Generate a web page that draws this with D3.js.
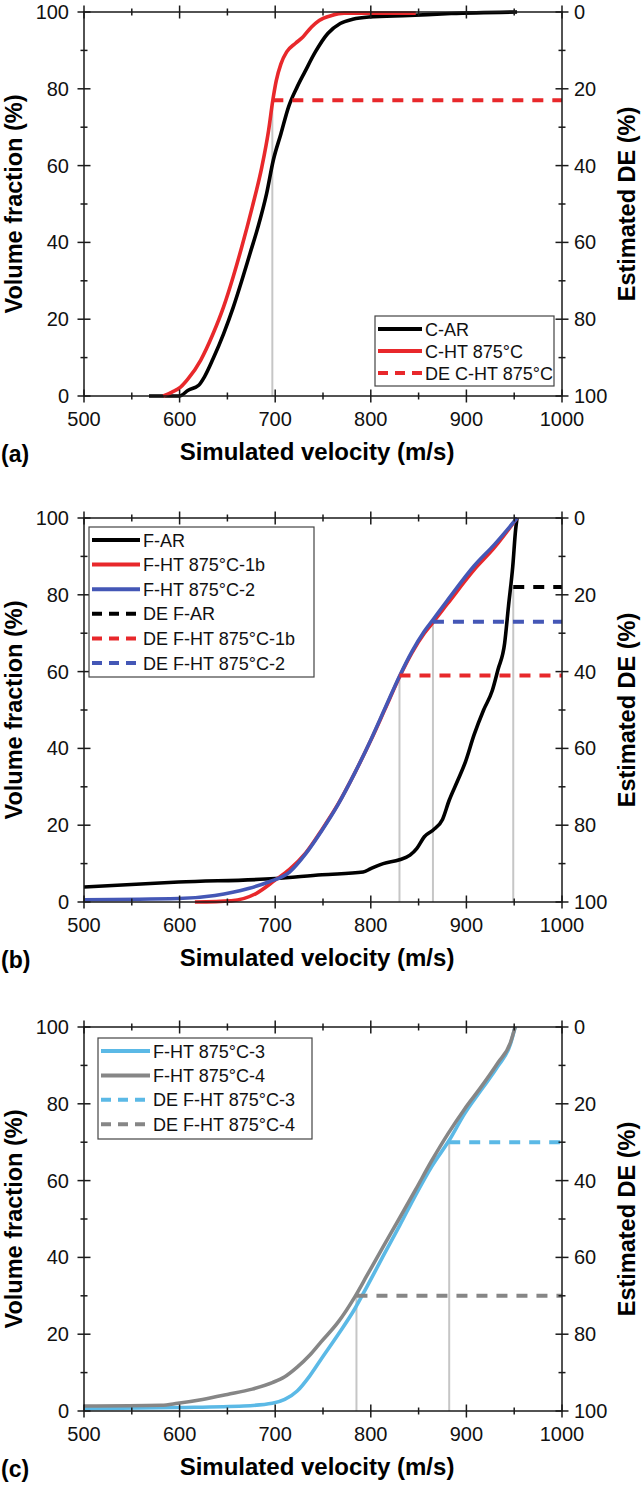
<!DOCTYPE html>
<html>
<head>
<meta charset="utf-8">
<script src="https://cdn.jsdelivr.net/npm/d3@7"></script>
<style>
  body { margin: 0; background: #fff; }
  text { font-family: "Liberation Sans", Arial, sans-serif; }
</style>
</head>
<body>
<div id="chart"></div>
<script>
// ---- data (velocity m/s, volume fraction %) ----
const xTicks = [500, 600, 700, 800, 900, 1000];
const yTicks = [0, 20, 40, 60, 80, 100];
const deTicks = [0, 20, 40, 60, 80, 100];

// panel (a)
const cAR = [[568,0],[600,0],[609,1.5],[620,2.8],[626,5],[635,9.7],[646,16.2],[656,23],[665,30],[673.5,37],[682,44],[691,52.7],[698,61.4],[706,68.3],[714,75.3],[723,80.5],[731,84.4],[742,89.6],[755,94.4],[768,97],[781,98.1],[798,98.7],[840,99.1],[884,99.6],[953,100]];
const cHT = [[583,0],[592,1],[601,2.3],[609,4.5],[622,9.3],[635,16.2],[646,23.2],[656,31],[665,38.8],[676,49.2],[686,59.6],[693,69],[697.5,77],[701,82],[706,86.5],[712,89.6],[721,91.8],[729,93.5],[738,96.1],[746,97.8],[759,99.1],[772,99.7],[847,99.7]];

// panel (b)
const fAR = [[500,3.9],[599,5.2],[700,6.1],[749,7.1],[792,7.8],[800,8.7],[813,10],[830,11],[841,12.2],[848,13.9],[856,17],[865,18.7],[875,21.5],[882,26.5],[891,31.7],[899,36.5],[908,43.5],[918,50],[927,55],[933,60.5],[940,67.4],[944,77],[948.5,87.4],[951.5,97],[953,100]];
const fHT1b = [[616,0],[654,0.3],[680,2.2],[700,5.7],[715,8.5],[732,12.8],[749,18.9],[766,25.6],[783,33.5],[800,42.1],[815,50.3],[830,58.6],[843,64.9],[856,70],[865,72.8],[880,77.6],[908,86.5],[929,92.2],[953,100]];
const fHT2 = [[500,0.6],[599,0.9],[637,1.7],[672,3.5],[693,5.2],[715,7.8],[732,12.6],[749,18.7],[766,25.5],[783,33.5],[800,42.2],[815,50.5],[830,58.8],[843,65.2],[856,70.5],[865,73.5],[880,78.5],[908,87.5],[929,93],[953,100]];

// panel (c)
const fHT3 = [[500,0.6],[598,0.9],[667,1.3],[697,2],[710,3],[723,5.2],[736,9.1],[748,13.5],[766,20],[783,26.5],[796,32.4],[813,40.4],[830,48.2],[847,56.3],[864,63.8],[882,70.5],[898,77.4],[916,83.8],[933,89.8],[946,95.5],[951,100]];
const fHT4 = [[500,1.3],[581,1.5],[598,2],[624,3],[650,4.3],[676,5.7],[697,7.4],[710,8.9],[723,11.4],[736,14.5],[748,18],[766,23.2],[783,29.6],[796,35.3],[813,42.8],[830,50.2],[847,57.7],[864,65.3],[881,72.3],[898,78.6],[916,84.6],[933,90.7],[946,95.9],[951,100]];

// estimated deposition efficiency (velocity where read, DE %)
const deA = [{ v: 697, de: 23 }];
const deB = [{ v: 949, de: 18 }, { v: 830, de: 41 }, { v: 865, de: 27 }];
const deC = [{ v: 882, de: 30 }, { v: 785, de: 70 }];

const RED = "#e8282b", BLUE = "#4457b6", LBLUE = "#5bb9e6", GREY = "#868686", BLACK = "#000";

const W = 642, H = 1491;
const left = 84, right = 562, plotH = 384;

const svg = d3.select("#chart").append("svg")
    .attr("width", W).attr("height", H);

const panels = [
    {
        top: 12, tag: "(a)",
        series: [
            { name: "C-AR", data: cAR, color: BLACK },
            { name: "C-HT 875°C", data: cHT, color: RED }
        ],
        de: [{ name: "DE C-HT 875°C", m: deA[0], color: RED }],
        legend: { x: 375, y: 316, w: 179, h: 70, row: 22, sample: 44 }
    },
    {
        top: 518, tag: "(b)",
        series: [
            { name: "F-AR", data: fAR, color: BLACK },
            { name: "F-HT 875°C-1b", data: fHT1b, color: RED },
            { name: "F-HT 875°C-2", data: fHT2, color: BLUE }
        ],
        de: [
            { name: "DE F-AR", m: deB[0], color: BLACK },
            { name: "DE F-HT 875°C-1b", m: deB[1], color: RED },
            { name: "DE F-HT 875°C-2", m: deB[2], color: BLUE }
        ],
        legend: { x: 89, y: 527, w: 225, h: 150, row: 24.6, sample: 48 }
    },
    {
        top: 1027, tag: "(c)",
        series: [
            { name: "F-HT 875°C-3", data: fHT3, color: LBLUE },
            { name: "F-HT 875°C-4", data: fHT4, color: GREY }
        ],
        de: [
            { name: "DE F-HT 875°C-3", m: deC[0], color: LBLUE },
            { name: "DE F-HT 875°C-4", m: deC[1], color: GREY }
        ],
        legend: { x: 98, y: 1038, w: 214, h: 101, row: 24.4, sample: 49 }
    }
];

panels.forEach(p => drawPanel(p));

function drawPanel(p) {
    const top = p.top, bottom = p.top + plotH;
    const x = d3.scaleLinear().domain([500, 1000]).range([left, right]);
    const y = d3.scaleLinear().domain([0, 100]).range([bottom, top]);
    const yDE = d3.scaleLinear().domain([0, 100]).range([top, bottom]);

    const g = svg.append("g");

    // grey guide lines from the axis up to the DE level
    p.de.forEach(d => {
        g.append("line")
            .attr("x1", x(d.m.v)).attr("x2", x(d.m.v))
            .attr("y1", bottom).attr("y2", yDE(d.m.de))
            .attr("stroke", "#c6c6c6").attr("stroke-width", 2);
    });

    const line = d3.line()
        .x(d => x(d[0])).y(d => y(d[1]))
        .curve(d3.curveMonotoneX);

    p.series.forEach(s => {
        g.append("path")
            .attr("d", line(s.data))
            .attr("fill", "none")
            .attr("stroke", s.color)
            .attr("stroke-width", 3.6)
            .attr("stroke-linejoin", "round");
    });

    p.de.forEach(d => {
        g.append("line")
            .attr("x1", x(d.m.v)).attr("x2", x(1000))
            .attr("y1", yDE(d.m.de)).attr("y2", yDE(d.m.de))
            .attr("stroke", d.color).attr("stroke-width", 4)
            .attr("stroke-dasharray", "11,9");
    });

    // frame
    g.append("rect")
        .attr("x", left).attr("y", top)
        .attr("width", right - left).attr("height", plotH)
        .attr("fill", "none").attr("stroke", "#1a1a1a").attr("stroke-width", 1.5);

    // crossing ticks on all four sides
    const ax = g.append("g").attr("stroke", "#1a1a1a").attr("stroke-width", 1.5);
    d3.range(500, 1001, 50).forEach(v => {
        const len = v % 100 === 0 ? 6.5 : 3.5;
        [top, bottom].forEach(yy => {
            ax.append("line").attr("x1", x(v)).attr("x2", x(v))
                .attr("y1", yy - len).attr("y2", yy + len);
        });
    });
    d3.range(0, 101, 10).forEach(v => {
        const len = v % 20 === 0 ? 6.5 : 3.5;
        [left, right].forEach(xx => {
            ax.append("line").attr("y1", y(v)).attr("y2", y(v))
                .attr("x1", xx - len).attr("x2", xx + len);
        });
    });

    // tick labels
    g.selectAll(".xl").data(xTicks).join("text")
        .attr("x", d => x(d)).attr("y", bottom + 30)
        .attr("text-anchor", "middle")
        .attr("font-size", 20).attr("fill", "#111")
        .text(d => d);
    g.selectAll(".yl").data(yTicks).join("text")
        .attr("x", left - 15).attr("y", d => y(d) + 7)
        .attr("text-anchor", "end")
        .attr("font-size", 20).attr("fill", "#111")
        .text(d => d);
    g.selectAll(".dl").data(deTicks).join("text")
        .attr("x", right + 12).attr("y", d => yDE(d) + 7)
        .attr("text-anchor", "start")
        .attr("font-size", 20).attr("fill", "#111")
        .text(d => d);

    // titles
    g.append("text")
        .attr("x", 317).attr("y", bottom + 64)
        .attr("text-anchor", "middle")
        .attr("font-size", 24).attr("font-weight", "bold")
        .text("Simulated velocity (m/s)");
    g.append("text")
        .attr("x", 1).attr("y", bottom + 66)
        .attr("font-size", 23).attr("font-weight", "bold")
        .text(p.tag);
    g.append("text")
        .attr("transform", `translate(22,${top + plotH / 2}) rotate(-90)`)
        .attr("text-anchor", "middle")
        .attr("font-size", 23.5).attr("font-weight", "bold")
        .text("Volume fraction (%)");
    g.append("text")
        .attr("transform", `translate(635,${top + plotH / 2}) rotate(-90)`)
        .attr("text-anchor", "middle")
        .attr("font-size", 23.5).attr("font-weight", "bold")
        .text("Estimated DE (%)");

    // legend
    const L = p.legend;
    const lg = g.append("g");
    lg.append("rect")
        .attr("x", L.x).attr("y", L.y).attr("width", L.w).attr("height", L.h)
        .attr("fill", "#fff").attr("stroke", "#444").attr("stroke-width", 1.2);
    const items = p.series.map(s => ({ name: s.name, color: s.color, dash: null }))
        .concat(p.de.map(d => ({ name: d.name, color: d.color, dash: "10,7" })));
    items.forEach((it, i) => {
        const cy = L.y + 13 + i * L.row;
        lg.append("line")
            .attr("x1", L.x + 3).attr("x2", L.x + 3 + L.sample)
            .attr("y1", cy).attr("y2", cy)
            .attr("stroke", it.color).attr("stroke-width", 4)
            .attr("stroke-dasharray", it.dash);
        lg.append("text")
            .attr("x", L.x + 3 + L.sample + 3).attr("y", cy + 6.5)
            .attr("font-size", 18).attr("fill", "#111")
            .text(it.name);
    });
}
</script>
</body>
</html>
